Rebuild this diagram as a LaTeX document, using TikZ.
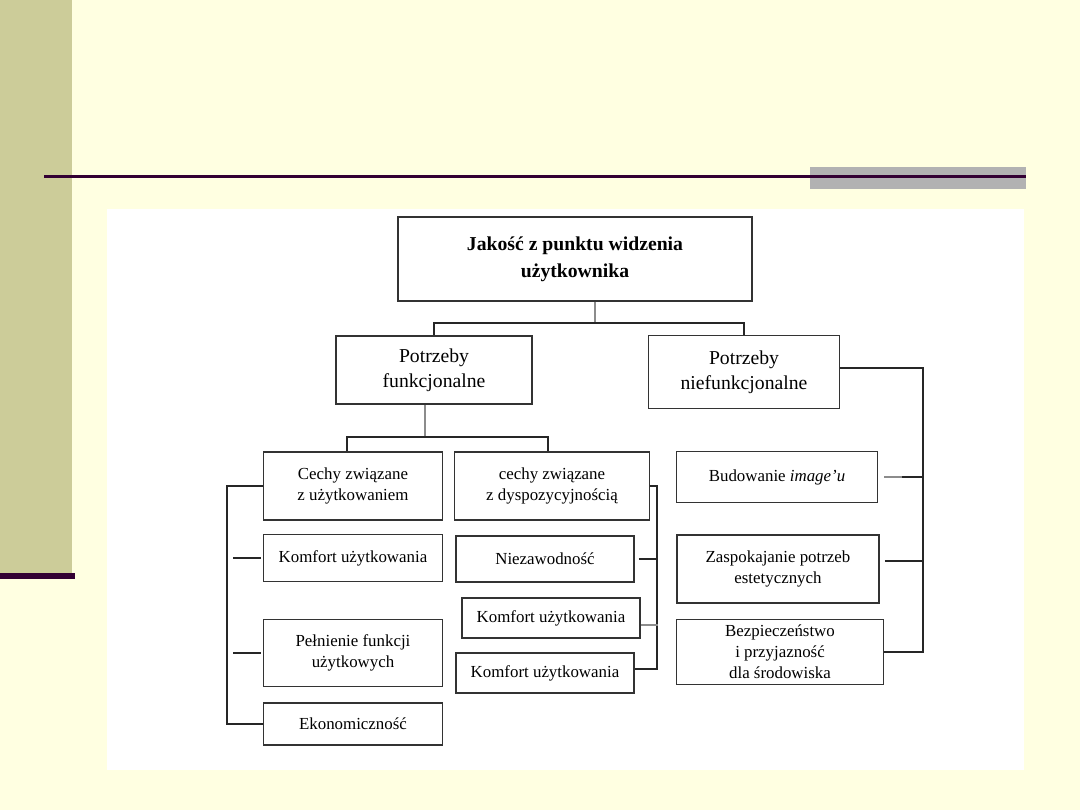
\documentclass[tikz,border=0pt]{standalone}
\usepackage{fontspec}
\setmainfont{Liberation Serif}
\usetikzlibrary{positioning}
\definecolor{slbg}{HTML}{FFFFE1}
\definecolor{slband}{HTML}{CCCC99}
\definecolor{sldark}{HTML}{330033}
\definecolor{slgray}{HTML}{B2B2B2}

\begin{document}
\begin{tikzpicture}[x=0.025cm, y=-0.025cm,
        box/.style={draw=black!80, line width=1.4pt, fill=white, align=center, inner sep=0pt,
          font=\fontsize{12}{15}\selectfont},
        sz/.style 2 args={minimum width=#1*0.025cm, minimum height=#2*0.025cm},
        ln/.style={draw=black!85, line width=1.3pt},
        gln/.style={draw=black!45, line width=1.3pt}]
        % slide background
        \fill[slbg] (0,0) rectangle (1080,810);
        \fill[slband] (0,0) rectangle (72,573);
        \fill[sldark] (0,573) rectangle (75,579);
        \fill[slgray] (810,167) rectangle (1026,189);
        \fill[sldark] (44,175) rectangle (1026,178);
        \fill[white] (107,209) rectangle (1024,770);
        \useasboundingbox (0,0) rectangle (1080,810);
        % boxes
        \node[box, sz={354}{84}, font=\bfseries\fontsize{14}{19}\selectfont] (top) at (575,259) {Jakość z punktu widzenia\\użytkownika};
        \node[box, sz={196}{68}, font=\fontsize{14}{18}\selectfont] (pf) at (434,370) {Potrzeby\\funkcjonalne};
        \node[box, sz={191}{73}, font=\fontsize{14}{18}\selectfont] (pn) at (744,372) {Potrzeby\\niefunkcjonalne};
        \node[box, sz={179}{68}] (cu)  at (353,486) {Cechy związane\\z użytkowaniem};
        \node[box, sz={195}{68}] (cd)  at (552,486) {cechy związane\\z dyspozycyjnością};
        \node[box, sz={179}{47}] (ku)  at (353,558) {Komfort użytkowania};
        \node[box, sz={179}{67}] (pfu) at (353,653) {Pełnienie funkcji\\użytkowych};
        \node[box, sz={179}{42}] (eko) at (353,724) {Ekonomiczność};
        \node[box, sz={178}{46}] (nz)  at (545,559) {Niezawodność};
        \node[box, sz={178}{40}] (ku2) at (551,618) {Komfort użytkowania};
        \node[box, sz={178}{40}] (ku3) at (545,673) {Komfort użytkowania};
        \node[box, sz={201}{51}] (bi)  at (777,477) {Budowanie \textit{image’u}};
        \node[box, sz={202}{68}] (ze)  at (778,569) {Zaspokajanie potrzeb\\estetycznych};
        \node[box, sz={207}{65}] (bp)  at (780,652) {Bezpieczeństwo\\i przyjazność\\dla środowiska};
        % connectors
        \coordinate (j1) at (595,323);
        \coordinate (j2) at (425,437);
        \coordinate (j3) at (347,437);
        \coordinate (j4) at (548,437);
        \coordinate (lx) at (227,600);
        \coordinate (mx) at (657,580);
        \coordinate (rx) at (923,500);
        \draw[gln] (top.south -| j1) -- (j1);
        \draw[ln] (pf.north) |- (j1) -| (pn.north);
        \draw[gln] (pf.south -| j2) -- (j2);
        \draw[ln] (cu.north -| j3) -- (j3) -- (j4) -- (cd.north -| j4);
        \draw[ln] (cu.west) -| (lx) |- (eko.west);
        \foreach \n in {ku,pfu}{\draw[ln] ([xshift=-0.05cm]\n.west) -- ++(-28,0);}
        \draw[ln] (cd.east) -| (mx) |- ([yshift=0.1cm]ku3.east);
        \draw[ln] ([xshift=0.1cm]nz.east) -- ++(19,0);
        \draw[gln] ([yshift=-0.175cm]ku2.east) -- ++(17,0);
        \draw[ln] ([yshift=0.1cm]pn.east) -| (rx) |- (bp.east);
        \draw[gln] ([xshift=0.15cm]bi.east) -- ++(18,0) coordinate (bg);
        \draw[ln] (bg) -- (bg -| rx);
        \draw[ln] ([xshift=0.125cm, yshift=0.2cm]ze.east) -- ++(39,0);
      \end{tikzpicture}
\end{document}
